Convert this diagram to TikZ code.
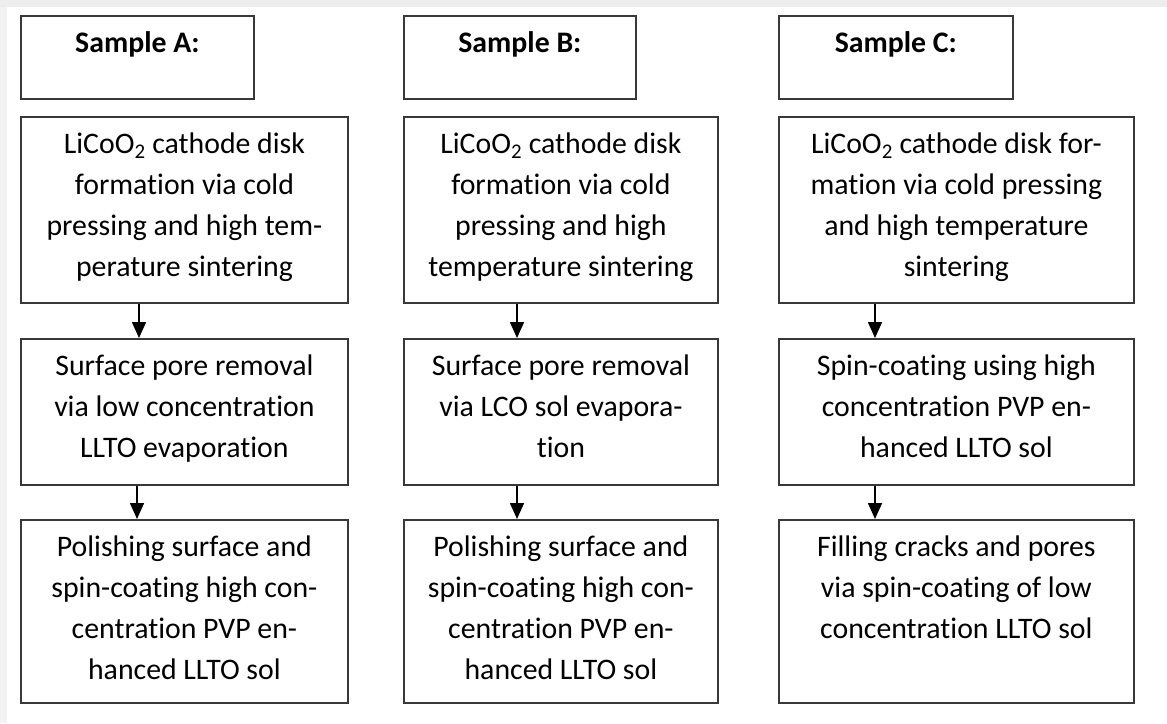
\documentclass[tikz,border=0pt]{standalone}
\usepackage{fontspec}
\setmainfont[Ligatures=NoCommon]{Carlito}
\usetikzlibrary{arrows.meta}
% top-aligned, centred text block of a given width and height
\newcommand\stagebody[3]{\parbox[t][#2][t]{#1}{\centering\rule{0pt}{37pt}#3}}
\begin{document}
\begin{tikzpicture}[x=1pt,y=-1pt,
  stage/.style={draw=black!78, line width=1.8pt, inner sep=0pt, anchor=north west,
                font=\fontsize{29.8}{40.7}\selectfont},
  flow/.style={line width=1.6pt, -{Triangle[length=16pt,width=14pt]}}]
\useasboundingbox (0,0) rectangle (1167,723);
\fill[white] (0,0) rectangle (1167,723);
\fill[black!7] (0,0) rectangle (1167,7);
\fill[black!5] (0,7) rectangle (7,723);

% column A
\node[stage] (ha) at (20,15)  {\stagebody{233pt}{83pt}{\textbf{Sample A:}}};
\node[stage] (a1) at (20,116) {\stagebody{327pt}{186pt}{LiCoO\textsubscript{2} cathode disk\\ formation via cold\\ pressing and high tem-\\ perature sintering}};
\node[stage] (a2) at (20,338) {\stagebody{327pt}{146pt}{Surface pore removal\\ via low concentration\\ LLTO evaporation}};
\node[stage] (a3) at (20,519) {\stagebody{327pt}{183pt}{Polishing surface and\\ spin-coating high con-\\ centration PVP en-\\ hanced LLTO sol}};

% column B
\node[stage] (hb) at (403,15)  {\stagebody{232pt}{83pt}{\textbf{Sample B:}}};
\node[stage] (b1) at (403,116) {\stagebody{314pt}{186pt}{LiCoO\textsubscript{2} cathode disk\\ formation via cold\\ pressing and high\\ temperature sintering}};
\node[stage] (b2) at (403,338) {\stagebody{314pt}{146pt}{Surface pore removal\\ via LCO sol evapora-\\ tion}};
\node[stage] (b3) at (403,519) {\stagebody{314pt}{183pt}{Polishing surface and\\ spin-coating high con-\\ centration PVP en-\\ hanced LLTO sol}};

% column C
\node[stage] (hc) at (778,15)  {\stagebody{234pt}{83pt}{\textbf{Sample C:}}};
\node[stage] (c1) at (778,116) {\stagebody{355pt}{186pt}{LiCoO\textsubscript{2} cathode disk for-\\ mation via cold pressing\\ and high temperature\\ sintering}};
\node[stage] (c2) at (778,338) {\stagebody{355pt}{146pt}{Spin-coating using high\\ concentration PVP en-\\ hanced LLTO sol}};
\node[stage] (c3) at (778,519) {\stagebody{355pt}{183pt}{Filling cracks and pores\\ via spin-coating of low\\ concentration LLTO sol}};

% arrow columns
\coordinate (xa1) at (139,0);
\coordinate (xa2) at (137,0);
\coordinate (xb)  at (517,0);
\coordinate (xc)  at (875,0);

\draw[flow] (a1.south -| xa1) -- (a2.north -| xa1);
\draw[flow] (a2.south -| xa2) -- (a3.north -| xa2);
\draw[flow] (b1.south -| xb) -- (b2.north -| xb);
\draw[flow] (b2.south -| xb) -- (b3.north -| xb);
\draw[flow] (c1.south -| xc) -- (c2.north -| xc);
\draw[flow] (c2.south -| xc) -- (c3.north -| xc);
\end{tikzpicture}
\end{document}
